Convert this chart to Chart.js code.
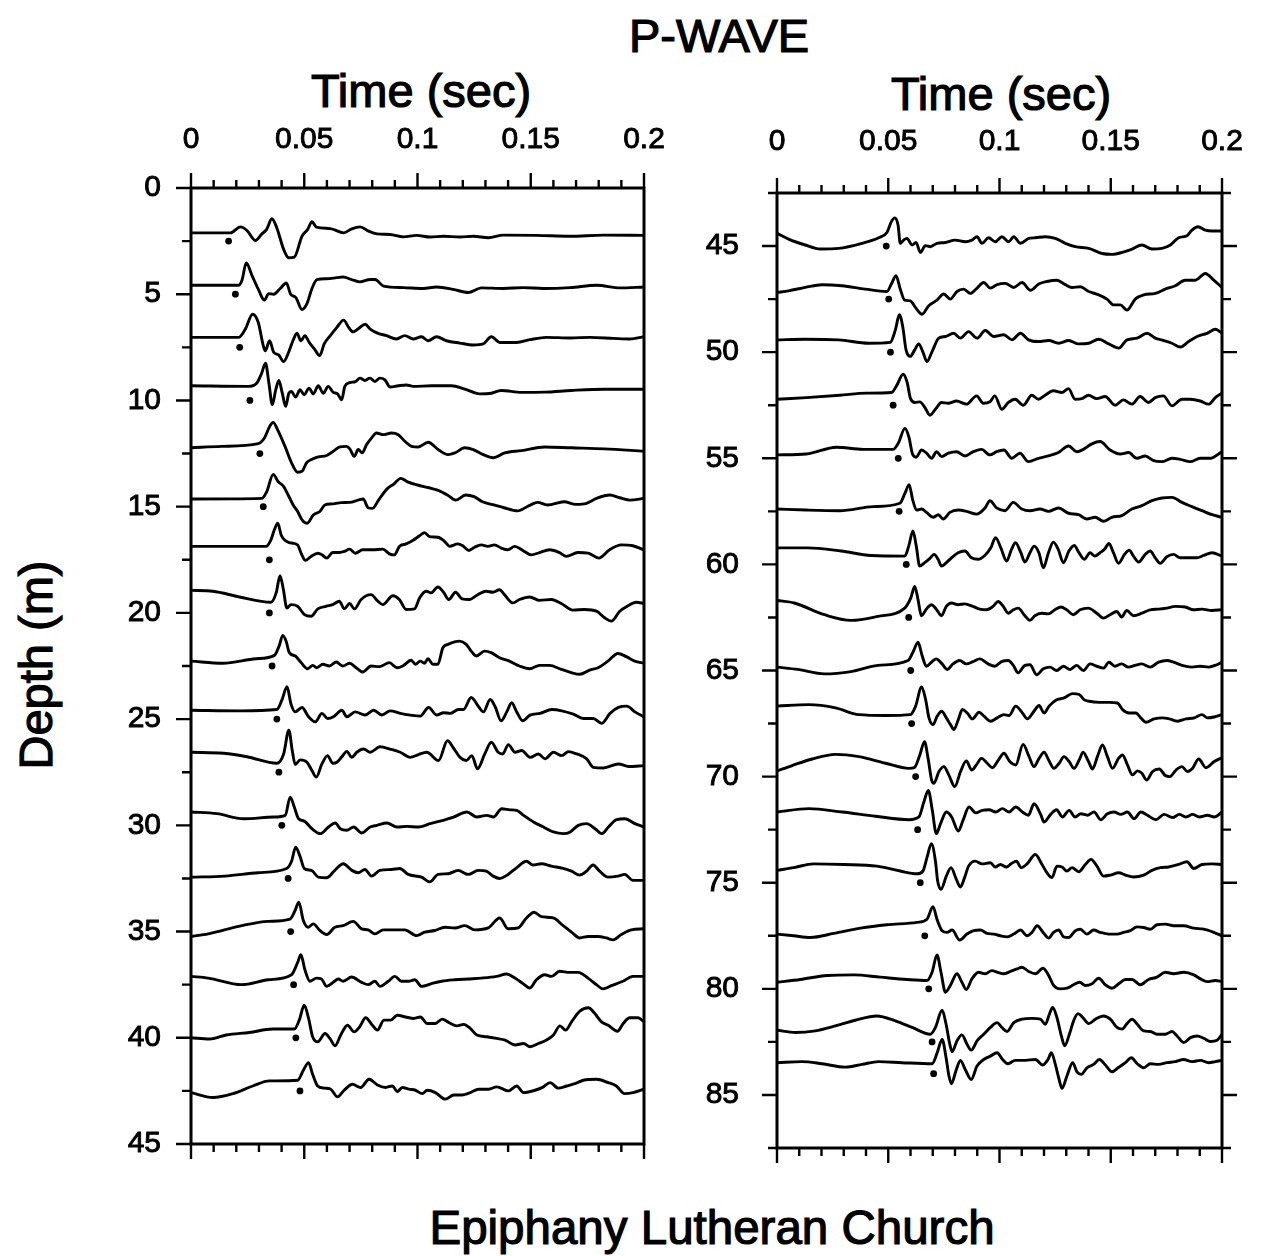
<!DOCTYPE html>
<html>
<head>
<meta charset="utf-8">
<script src="https://cdn.jsdelivr.net/npm/chart.js@4.4.1/dist/chart.umd.min.js"></script>
<style>
  html, body { margin:0; padding:0; background:#fff; }
  body { width:1261px; height:1256px; position:relative; overflow:hidden; font-family:'Liberation Sans', Arial, Helvetica, sans-serif; color:#000; }
  .t { position:absolute; transform:translate(-50%,-50%); white-space:nowrap; line-height:1; -webkit-text-stroke:1.2px #000; }
  canvas { position:absolute; }
</style>
</head>
<body>
<div class="t" style="left:719px; top:35px; font-size:47px;">P-WAVE</div>
<div class="t" style="left:421px; top:90px; font-size:47px;">Time (sec)</div>
<div class="t" style="left:1001px; top:93px; font-size:47px;">Time (sec)</div>
<div class="t" style="left:35px; top:665px; font-size:47px; transform:translate(-50%,-50%) rotate(-90deg);">Depth (m)</div>
<div class="t" style="left:712px; top:1228px; font-size:47.5px;">Epiphany Lutheran Church</div>
<canvas id="cL" width="704" height="1104" style="left:0px; top:100px;"></canvas>
<canvas id="cR" width="582" height="1108" style="left:700px; top:100px;"></canvas>
<script>
// ---- tick values / labels ----
const timeTicks = [0, 0.05, 0.1, 0.15, 0.2];
const timeTickLabels = ['0', '0.05', '0.1', '0.15', '0.2'];
const depthTicksLeft = [0, 5, 10, 15, 20, 25, 30, 35, 40, 45];
const depthTicksRight = [45, 50, 55, 60, 65, 70, 75, 80, 85];

// ---- trace depths (m) and first-arrival picks (ms) ----
const depthsLeft = [2.5, 5, 7.5, 10, 12.5, 15, 17.5, 20, 22.5, 25, 27.5, 30, 32.5, 35, 37.5, 40, 42.5];
const picksLeft = [16.6, 19.6, 21.5, 26.0, 30.4, 31.9, 34.6, 34.6, 35.8, 37.9, 38.8, 40.1, 42.9, 44.0, 45.3, 46.3, 48.1];
const depthsRight = [45, 47.5, 50, 52.5, 55, 57.5, 60, 62.5, 65, 67.5, 70, 72.5, 75, 77.5, 80, 82.5, 84];
const picksRight = [49.1, 50.2, 51.0, 52.2, 54.5, 54.9, 58.1, 59.2, 60.1, 60.5, 62.3, 63.2, 64.4, 66.4, 68.2, 69.7, 70.4];

// ---- traces: pairs of [time ms, amplitude (m, upward positive)] ----
const traceL01 = [0,0.39, 17.4,0.39, 21.8,0.67, 24.7,0.5, 28.4,0.03, 31.3,0.34, 33.4,0.55, 35.7,1.05, 37.9,0.62, 40.9,-0.39, 43.1,-0.78, 45.6,-0.75, 49.0,0.23, 51.5,0.55, 53.4,0.91, 55.4,0.66, 61.5,0.59, 67.4,0.39, 71.0,0.58, 74.7,0.67, 78.4,0.47, 82.1,0.34, 87.9,0.31, 93.8,0.2, 99.6,0.27, 105.6,0.19, 111.5,0.23, 118.7,0.19, 124.7,0.23, 131.3,0.16, 137.9,0.28, 152.6,0.27, 167.4,0.23, 182.1,0.28, 200,0.27];
const traceL02 = [0,0.42, 21.0,0.42, 22.5,0.66, 24.4,1.47, 26.9,0.89, 29.9,0.19, 32.4,-0.28, 34.3,0.03, 36.5,0, 39.4,0.27, 42.1,0.53, 44.0,0, 46.3,-0.16, 49.0,-0.72, 51.2,-0.44, 53.4,0.27, 55.6,0.69, 59.9,0.73, 64.4,0.78, 67.2,0.81, 70.9,0.69, 74.6,0.58, 79.1,0.69, 81.3,0.69, 85.0,0.38, 93.8,0.31, 102.5,0.27, 108.4,0.34, 115.7,0.23, 122.4,0.08, 128.2,0.3, 137.9,0.27, 146.6,0.31, 155.6,0.27, 167.4,0.31, 179.1,0.42, 189.4,0.3, 200,0.34];
const traceL03 = [0,0.47, 21,0.47, 24,0.86, 27.2,1.56, 29.7,1.17, 31.9,0.08, 32.8,-0.16, 34.7,0.31, 36.5,-0.23, 38.7,-0.36, 40.9,-0.67, 43.1,-0.23, 45.0,0.31, 46.8,0.66, 48.5,0.31, 50.3,0.55, 52.2,0.23, 54.3,-0.05, 56.8,-0.39, 58.8,0.16, 61.5,0.55, 64.4,0.94, 67.4,1.28, 69.6,0.94, 71.5,0.73, 74.0,0.89, 76.9,1.09, 79.1,0.86, 82.6,0.66, 86.3,0.55, 90.7,0.39, 94.4,0.55, 98.1,0.39, 101.8,0.5, 104.7,0.31, 108.4,0.5, 112.8,0.31, 118.7,0.2, 124.6,0.11, 129.0,0.16, 132.6,0.5, 136.3,0.23, 143.7,0.23, 149.6,0.36, 156.9,0.47, 167.4,0.44, 176.2,0.47, 186.5,0.42, 193.8,0.39, 200,0.5];
const traceL04 = [0,0.69, 25.3,0.66, 29.0,0.81, 31.2,1.28, 32.9,1.75, 34.4,0.81, 35.9,-0.2, 37.4,0.5, 38.8,0.94, 40.3,0.34, 41.8,-0.28, 43.2,0.34, 44.4,0.42, 46.2,0.16, 48.1,0.5, 50.0,0.27, 52.1,0.58, 54.0,0.31, 56.2,0.69, 58.4,0.34, 60.6,0.66, 62.8,0.38, 64.7,0.31, 66.5,0.03, 67.9,0.66, 70.1,0.84, 72.6,0.89, 74.6,1.05, 76.8,0.94, 79.0,1.05, 81.2,0.89, 83.4,1.05, 85.6,0.97, 87.9,0.63, 91.5,0.69, 95.1,0.73, 98.1,0.66, 106.2,0.69, 115.0,0.69, 120.9,0.53, 127.5,0.31, 132.6,0.34, 136.9,0.47, 145.9,0.38, 156.2,0.39, 167.9,0.47, 182.6,0.53, 200,0.53];
const traceL05 = [0,0.27, 13.5,0.34, 29.7,0.47, 32.4,0.73, 34.9,1.31, 36.3,1.47, 38.2,1.13, 41.5,0.34, 44.4,-0.44, 47.1,-0.88, 49.1,-0.83, 51.0,-0.44, 53.2,-0.28, 56.2,-0.16, 59.9,-0.09, 62.8,0.11, 65.7,0.31, 68.7,0.34, 70.1,0.22, 72.1,-0.13, 73.8,0.19, 75.6,0.03, 77.5,0.42, 79.7,0.73, 81.9,0.97, 84.9,0.89, 88.5,0.97, 91.5,0.89, 94.4,0.58, 97.4,0.34, 100.3,0.31, 104.7,0.53, 109.1,0.19, 113.5,-0.05, 116.5,0.03, 120.9,0.27, 124.6,0.19, 129.0,-0.05, 133.4,-0.2, 138.5,0.03, 145.9,0.14, 156.2,0.31, 167.9,0.27, 182.6,0.22, 200,0.11];
const traceL06 = [0,0.36, 31.2,0.39, 33.4,0.7, 36.3,1.52, 38.5,1.17, 40.7,0.98, 42.9,0.55, 45.1,0.08, 47.1,-0.23, 49.1,-0.63, 51.3,-0.78, 54.0,-0.39, 56.9,-0.23, 59.1,0.08, 62.1,0.13, 66.5,0.19, 70.1,0.2, 73.8,0.31, 76.0,0.36, 78.2,-0.05, 80.1,-0.08, 83.1,0.36, 86.8,0.86, 89.4,1.05, 92.6,1.33, 95.6,1.17, 100.0,1.02, 105.1,0.89, 108.8,0.78, 113.2,0.55, 116.9,0.31, 121.3,0.55, 125.0,0.47, 128.7,0.23, 133.8,0.08, 138.2,-0.05, 144.1,-0.2, 149.3,0.05, 153.0,0.2, 157.4,0.08, 164.7,0.23, 169.9,0.11, 174.6,0.16, 179.0,0.39, 184.9,0.55, 189.3,0.42, 193.8,0.31, 200,0.39];
const traceL07 = [0,0.63, 33.1,0.63, 35.3,0.94, 36.8,1.41, 38.3,1.72, 39.8,1.17, 41.2,0.94, 43.4,0.81, 44.9,0.78, 47.1,0.7, 48.6,0.31, 50.5,-0.03, 53.0,0.16, 56.0,0.31, 57.9,0.23, 59.9,0.08, 62.6,0.34, 65.5,0.34, 67.7,0.39, 70.0,0.5, 72.6,0.31, 75.8,0.47, 80.3,0.47, 84.7,0.5, 87.6,0.28, 89.8,0.23, 92.0,0.63, 95.0,0.75, 97.9,0.91, 100.9,1.13, 103.1,1.28, 105.3,1.09, 109.0,1.06, 112.0,0.86, 114.2,0.63, 117.8,0.75, 120.0,0.66, 122.7,0.44, 125.2,0.59, 128.1,0.7, 131.1,0.63, 134.0,0.7, 137.0,0.55, 139.9,0.47, 142.9,0.63, 146.5,0.44, 150.2,0.23, 153.9,0.34, 158.3,0.47, 162.7,0.34, 165.7,0.16, 170.8,0.34, 175.3,0.31, 180.1,0.08, 184.8,0.47, 190.0,0.7, 195.1,0.66, 200,0.47];
const traceL08 = [0,1.06, 9.6,1.02, 21.4,0.75, 35.3,0.5, 37.6,0.94, 39.3,1.75, 40.8,1.09, 42.3,0.23, 44.2,0.39, 47.1,0.31, 50.1,-0.08, 53.0,-0.16, 56.0,0.19, 59.6,0.31, 62.6,0.39, 65.5,0.55, 67.7,0.19, 70.0,0.44, 72.2,0.19, 75.1,0.63, 79.5,0.86, 82.5,0.55, 84.7,0.39, 89.1,0.81, 92.0,0.63, 95.0,0.16, 98.7,0.19, 100.9,0.7, 103.8,1.02, 106.0,0.94, 109.0,1.22, 111.5,0.97, 113.8,0.63, 116.8,0.97, 119.7,0.66, 123.0,0.63, 125.9,0.81, 130.3,1.02, 133.3,0.97, 136.2,1.09, 138.4,0.86, 142.1,0.47, 145.0,0.63, 149.5,0.75, 153.9,0.59, 159.1,0.63, 163.5,0.44, 168.6,0.13, 173.8,0.16, 179.0,0.08, 182.6,-0.23, 185.6,-0.39, 189.3,0.08, 193.0,0.34, 196.6,0.5, 200,0.44];
const traceL09 = [0,0.23, 14.0,0.13, 28.7,0.34, 36.8,0.5, 39.0,0.97, 40.5,1.44, 42.0,1.17, 43.4,0.63, 46.1,0.47, 48.6,0.16, 51.5,-0.13, 53.8,0.03, 55.5,-0.08, 58.2,0.08, 61.1,0, 64.1,0.19, 67.0,0, 70.0,0.13, 72.9,-0.08, 75.8,-0.28, 79.5,0, 83.2,-0.03, 87.6,0.16, 90.9,-0.08, 93.5,0, 97.2,0.27, 99.1,0.08, 101.2,0.23, 103.1,0.13, 104.6,0.34, 106.8,0.08, 109.0,0.08, 111.2,0.86, 113.5,1.02, 118.6,1.17, 121.5,1.02, 123.7,0.7, 125.9,0.47, 129.6,0.7, 132.5,0.63, 136.2,0.39, 140.6,0.23, 145.0,0, 149.5,-0.13, 153.9,0.03, 158.3,0.03, 163.5,-0.16, 167.9,-0.31, 171.6,-0.39, 176.0,-0.19, 179.7,-0.08, 184.1,0.23, 188.5,0.59, 192.2,0.44, 195.9,0.23, 200,0.13];
const traceL10 = [0,0.42, 21.8,0.39, 37.9,0.45, 40.1,0.89, 42.4,1.52, 44.1,0.73, 46.0,0.34, 49.0,0.55, 51.9,0.11, 54.9,-0.13, 57.8,0.27, 60.3,0.03, 62.9,0.11, 66.6,0.42, 68.8,0.11, 72.5,0.34, 76.9,0.19, 80.6,0.42, 84.3,0.19, 87.9,0.39, 92.4,0.27, 96.8,0.19, 101.2,0.14, 104.9,0.55, 108.5,0.19, 111.5,0.3, 114.4,0.27, 118.1,0.45, 120.3,0.45, 123.7,1.02, 127.0,0.58, 129.1,0.34, 132.1,0.92, 134.3,0.58, 136.9,-0.08, 139.4,0.34, 141.6,0.77, 143.8,0.34, 146.5,-0.08, 149.7,0.19, 154.1,0.27, 159.3,0.45, 163.7,0.39, 168.8,0.23, 173.2,0.03, 177.6,0.03, 181.3,-0.2, 185.0,0.27, 188.7,0.55, 192.4,0.61, 196.0,0.34, 200,0.11];
const traceL11 = [0,0.94, 14.4,0.89, 24.7,0.73, 37.9,0.42, 40.9,0.86, 43.2,1.98, 44.7,1.02, 46.0,0.36, 48.2,0.58, 51.2,0.47, 53.4,0.08, 55.3,-0.23, 57.8,0.39, 60.3,0.78, 62.6,0.42, 64.4,0.47, 66.6,0.73, 68.8,0.98, 71.0,0.7, 73.2,0.94, 76.2,1.09, 79.1,0.94, 83.5,1.2, 87.9,1.09, 92.4,0.94, 96.8,0.7, 100.4,0.83, 104.1,0.94, 109.3,0.55, 113.2,1.48, 116.2,1.09, 118.8,0.7, 121.5,0.55, 124.0,0.78, 126.5,0.16, 129.7,0.86, 132.6,1.41, 135.6,0.94, 137.6,0.86, 140.1,1.3, 143.1,0.94, 146.0,1.02, 149.7,0.7, 153.4,0.86, 156.3,0.63, 160.0,0.94, 163.7,0.78, 166.6,0.97, 170.3,0.86, 174.7,0.63, 177.6,0.23, 182.1,0.2, 188.7,0.39, 193.2,0.27, 200,0.31];
const traceL12 = [0,0.63, 11.5,0.55, 23.2,0.31, 36.5,0.39, 41.6,0.47, 43.8,1.33, 45.6,0.86, 47.5,0.31, 50.0,0.2, 53.4,-0.16, 57.1,-0.39, 60.7,-0.08, 63.7,0.11, 65.9,-0.16, 68.8,-0.23, 71.8,-0.08, 75.4,-0.36, 79.1,-0.08, 82.1,0, 86.5,0.11, 90.9,-0.08, 95.3,-0.05, 100.4,-0.08, 105.6,0.08, 110.0,0.2, 115.9,0.39, 121.8,0.63, 126.2,0.39, 130.6,0.47, 133.5,0.39, 137.2,0.78, 140.9,0.73, 143.8,0.7, 146.8,0.47, 151.2,0.16, 155.6,-0.08, 160.0,-0.31, 164.4,-0.39, 167.4,-0.31, 171.0,0, 174.7,0.08, 178.4,-0.16, 181.3,-0.39, 184.3,-0.08, 187.9,0.27, 191.6,0.31, 196.0,0.08, 200,-0.08];
const traceL13 = [0,0.06, 15.0,0.11, 29.7,0.27, 42.2,0.47, 44.4,0.81, 46.2,1.47, 48.1,1.05, 50.0,0.47, 53.2,0.38, 56.2,0.06, 59.9,0.03, 63.5,0.38, 67.2,0.69, 71.0,0.38, 73.8,0.27, 76.8,0.42, 79.7,0.11, 83.4,0.38, 88.5,0.42, 92.2,0.47, 95.9,0.19, 101.8,0.06, 105.4,-0.16, 109.1,0.19, 113.5,0.22, 117.9,0.38, 122.4,0.19, 126.8,0.38, 130.4,0.34, 133.4,0.11, 136.3,0, 140.0,0.19, 143.7,0.5, 148.1,0.81, 151.0,0.63, 154.7,0.69, 159.1,0.58, 164.3,0.47, 168.0,0.34, 171.6,0.16, 174.6,0.34, 177.5,0.63, 180.4,0.34, 184.1,0.06, 188.5,0.11, 191.5,0.19, 195.1,-0.09, 200,-0.09];
const traceL14 = [0,-0.23, 7.6,-0.11, 22.4,0.28, 34.1,0.48, 43.7,0.59, 45.9,0.98, 47.6,1.38, 49.6,0.52, 51.8,0.2, 54.0,0.36, 56.9,0.05, 59.9,-0.14, 63.5,0.2, 67.2,0.28, 71.6,0.48, 75.3,0.13, 78.2,0.08, 81.2,-0.11, 84.9,0.08, 88.5,0.08, 94.4,0.08, 99.6,-0.19, 103.2,-0.03, 107.6,0.05, 112.1,0.2, 116.5,0.17, 120.9,0.28, 125.3,0.08, 131.2,0.17, 136.3,0.64, 140.0,0.13, 144.4,0.17, 148.1,0.64, 151.5,0.91, 154.7,0.7, 159.9,0.64, 164.3,0.28, 168.0,-0.03, 171.6,-0.3, 175.3,-0.23, 179.7,-0.23, 183.4,-0.3, 186.3,-0.39, 190.0,-0.14, 194.4,0.08, 200,0.13];
const traceL15 = [0,0.39, 7.6,0.31, 22.4,0, 34.1,0.23, 44.4,0.47, 47.1,1.05, 48.5,1.41, 50.3,0.7, 52.5,0.16, 55.4,0.31, 57.6,0.27, 59.9,-0.08, 62.8,0.11, 65.0,0.27, 67.2,0.16, 70.9,0.36, 75.3,0.11, 78.2,0, 81.2,0.16, 83.4,-0.08, 87.1,0.16, 90.0,0.39, 92.9,0.16, 95.9,0.16, 98.8,0.23, 101.8,-0.08, 106.2,0.05, 110.6,0.16, 116.5,0.23, 122.4,0.27, 128.2,0.31, 134.9,0.39, 139.3,0.5, 143.0,0.31, 146.6,0.05, 149.6,-0.16, 152.5,0.23, 156.2,0.47, 159.1,0.39, 162.8,0.63, 167.2,0.58, 170.9,0.58, 175.3,0.31, 179.0,0, 181.9,-0.2, 185.6,-0.05, 190.7,0.16, 195.1,0.39, 200,0.39];
const traceL16 = [0,0, 8.2,-0.06, 15.5,0.13, 25.8,0.25, 36.1,0.41, 45.6,0.41, 47.8,0.83, 50.0,1.53, 51.9,0.91, 53.7,0.05, 55.9,-0.19, 59.2,0.2, 61.3,-0.03, 63.6,-0.38, 66.1,0.13, 69.1,0.59, 72.0,0.28, 74.5,0.52, 77.1,0.94, 79.8,0.63, 82.3,0.36, 85.2,0.83, 88.1,0.83, 91.1,1.06, 94.7,0.98, 98.4,0.91, 101.3,0.98, 104.3,0.67, 107.9,0.67, 110.9,0.88, 113.8,0.72, 117.4,0.56, 120.4,0.63, 123.3,0.44, 126.2,0.13, 130.6,0.05, 135.0,-0.03, 138.7,-0.11, 143.1,-0.34, 146.8,-0.27, 149.7,-0.42, 153.4,-0.27, 157.0,-0.11, 160.0,0.13, 162.9,0.56, 165.4,0.36, 168.0,0.75, 171.7,1.25, 175.4,1.41, 178.3,1.14, 181.2,0.75, 184.2,0.59, 188.3,0.31, 190.8,0.67, 193.7,0.94, 197.4,0.94, 200,0.75];
const traceL17 = [0,-0.08, 9.7,-0.31, 18.5,-0.13, 27.3,0.23, 34.6,0.47, 47.1,0.5, 49.6,0.97, 51.9,1.33, 53.7,0.78, 55.9,0.23, 58.8,0.13, 61.7,0.08, 64.7,-0.28, 67.6,0.03, 71.3,0.31, 74.9,0.16, 78.6,0.55, 82.3,0.28, 85.9,0.16, 88.9,0.23, 91.1,-0.03, 93.3,0.16, 96.2,0.08, 99.1,0.03, 102.1,-0.13, 104.3,0.03, 107.9,-0.08, 112.3,-0.39, 116.0,-0.19, 119.6,-0.19, 123.3,-0.08, 127.0,0.08, 131.4,0.08, 135.0,0.19, 140.2,0, 143.8,0.23, 146.8,-0.08, 151.9,0.03, 155.6,0.19, 158.5,0.39, 162.2,0.13, 165.9,0.23, 169.5,0.34, 173.2,0.5, 179.0,0.55, 184.2,0.39, 187.8,0.23, 191.5,-0.13, 195.2,-0.08, 200,0.08];

const traceR01 = [0,0.6, 5.2,0.33, 12.7,0.05, 19.5,-0.14, 27.7,-0.11, 38.2,0.13, 45.7,0.39, 49.4,0.64, 51.4,1.15, 52.9,1.33, 54.4,0.99, 55.4,0.13, 56.9,0.28, 58.4,0.36, 60.7,0.05, 62.5,0.17, 64.4,-0.3, 66.7,0.02, 68.9,-0.03, 71.9,0.13, 75.6,0.17, 80.1,0.28, 84.6,0.2, 87.6,0.28, 89.9,0.44, 92.1,0.13, 95.1,0.39, 98.1,0.2, 101.1,0.44, 104.1,0.2, 106.4,0.44, 109.4,0.13, 113.1,0.36, 116.1,0.39, 120.6,0.44, 125.1,0.36, 129.6,0.13, 134.1,-0.03, 140.1,-0.11, 146.1,-0.35, 150.6,-0.39, 155.1,-0.3, 159.6,-0.14, 164.0,0.05, 168.5,-0.14, 173.0,-0.11, 176.8,0.05, 180.5,0.39, 184.3,0.49, 186.5,0.75, 189.2,0.91, 192.5,0.75, 195.5,0.71, 200,0.71];
const traceR02 = [0,0.31, 5.2,0.39, 12.7,0.55, 20.2,0.68, 29.2,0.63, 39.7,0.47, 49.4,0.36, 51.4,0.71, 53.5,1.1, 55.4,0.47, 57.4,-0.05, 59.9,-0.08, 62.2,-0.39, 65.2,-0.71, 68.2,-0.31, 71.9,-0.05, 74.9,0.24, 77.9,0, 80.9,0.36, 83.9,0.47, 86.9,0.27, 89.9,0.52, 92.9,0.78, 95.9,0.52, 98.9,0.68, 102.6,0.74, 106.4,0.55, 110.1,0.78, 113.9,0.42, 117.6,0.71, 121.3,0.83, 125.8,0.89, 129.6,0.68, 132.6,0.55, 136.3,0.58, 140.1,0.36, 144.6,0.2, 148.3,0, 151.3,-0.27, 154.3,-0.27, 157.3,-0.52, 161.0,0, 164.8,0.2, 170.0,0.27, 174.5,0.47, 179.0,0.63, 183.5,0.89, 188.0,0.89, 192.5,1.21, 196.3,0.89, 200,0.55];
const traceR03 = [0,0.58, 12.7,0.61, 27.7,0.58, 41.2,0.42, 50.9,0.46, 53.2,1.05, 55.0,1.76, 56.5,1.21, 58.0,0.11, 59.9,-0.2, 61.9,0.11, 63.7,0.39, 65.5,0.03, 67.4,-0.44, 69.7,0.03, 72.7,0.66, 75.7,0.74, 79.4,0.89, 82.4,0.66, 86.1,0.97, 89.9,0.66, 93.6,1.02, 97.4,0.74, 101.9,0.82, 105.6,0.58, 109.4,0.89, 113.1,0.58, 117.6,0.5, 122.1,0.55, 126.6,0.42, 131.1,0.55, 135.6,0.39, 140.1,0.42, 144.6,0.61, 149.1,0.39, 153.6,0.19, 157.3,0.58, 161.8,0.66, 166.3,0.89, 170.0,0.66, 173.7,0.55, 177.5,0.42, 181.3,0.24, 185.0,0.5, 188.8,0.74, 193.3,0.89, 197.1,1.08, 200,0.89];
const traceR04 = [0,0.28, 13.2,0.36, 28.2,0.47, 40.2,0.57, 51.5,0.6, 53.7,0.91, 56.7,1.46, 58.5,1.07, 60.0,0.31, 62.0,0.13, 64.2,0.16, 66.5,-0.11, 68.7,-0.47, 71.4,-0.16, 73.9,0.13, 77.0,0.09, 80.7,0.2, 85.2,0.05, 89.7,0.44, 92.7,0.09, 95.7,0.16, 97.9,0.44, 101.0,-0.19, 104.0,0.13, 107.0,0.28, 110.7,0, 114.5,0.47, 117.5,0.28, 120.5,0.47, 124.2,0.68, 128.0,0.6, 131.0,0.78, 134.0,0.28, 137.0,0.31, 140.0,0.47, 143.7,0.31, 147.5,0.41, 152.0,0, 155.7,0.25, 159.5,0.05, 163.2,0.41, 167.0,0.13, 170.0,0.36, 173.7,0.44, 177.5,-0.03, 182.0,0.28, 185.7,0.28, 190.2,0.2, 194.0,0.05, 197.0,0.36, 200,0.57];
const traceR05 = [0,0.16, 13.2,0.2, 26.7,0.52, 38.7,0.42, 52.2,0.42, 54.5,0.71, 57.5,1.41, 59.3,0.99, 60.9,0.2, 62.5,0.05, 65.0,0.39, 67.2,0.24, 69.5,0, 71.7,0.31, 74.0,0.08, 77.0,0.24, 80.7,0.31, 84.5,0.11, 88.2,0.31, 91.9,0.42, 95.7,0.16, 98.7,0.31, 102.0,0.39, 105.5,0, 109.2,0.24, 113.0,-0.16, 117.5,0, 122.0,0.11, 126.5,0.27, 131.0,0.58, 134.7,0.31, 137.7,0.42, 141.5,0.68, 145.2,0.79, 149.7,0.39, 154.2,0.2, 158.0,0.27, 161.7,0, 165.5,0.11, 169.2,-0.11, 173.0,-0.16, 177.5,0, 181.2,-0.05, 185.7,-0.16, 190.2,0, 194.7,0, 200,0.31];
const traceR06 = [0,0.11, 13.2,0.06, 28.2,0.03, 43.2,0.22, 55.2,0.38, 57.5,0.85, 59.4,1.26, 60.9,0.58, 62.7,0.06, 65.0,0.11, 67.2,-0.05, 70.2,-0.28, 72.5,-0.16, 74.7,-0.36, 77.7,-0.05, 81.5,0.06, 85.2,0, 89.7,-0.13, 93.5,0.16, 95.7,0.5, 98.7,0.16, 102.5,0.03, 106.2,0.42, 110.0,0.11, 113.7,0.03, 118.2,0.11, 122.0,0, 126.5,0.16, 131.0,-0.09, 135.5,-0.16, 139.2,-0.36, 143.0,-0.28, 146.7,-0.47, 150.5,-0.28, 155.0,-0.2, 159.5,0.11, 164.0,0.27, 168.5,0.5, 173.0,0.63, 177.5,0.66, 182.0,0.42, 186.5,0.22, 191.0,0.03, 195.5,-0.16, 200,-0.28];
const traceR07 = [0,0.78, 13.8,0.78, 28.8,0.63, 42.3,0.42, 57.4,0.39, 59.2,0.86, 61.1,1.57, 62.6,0.86, 64.1,-0.08, 66.4,0.08, 68.6,0.27, 70.6,0.47, 72.4,0.24, 73.9,-0.08, 76.1,0.08, 78.4,0.31, 81.4,0.55, 84.4,0.63, 87.4,0.31, 90.4,0.24, 93.4,0.42, 96.1,0.78, 98.2,1.26, 100.6,0.78, 103.2,0.16, 105.4,0.71, 107.2,1.02, 109.6,0.55, 111.4,0.11, 113.7,0.55, 115.6,0.86, 117.7,0.55, 119.7,-0.16, 122.0,0.55, 124.2,1.05, 126.4,0.71, 128.7,0.08, 131.2,0.63, 133.6,0.89, 135.7,0.55, 138.1,0.24, 140.7,0.55, 142.9,0.39, 145.2,0.55, 147.4,0.74, 149.2,0.99, 151.2,0.55, 153.5,0.05, 156.2,0.47, 158.3,0.67, 160.2,0.39, 162.5,0.11, 165.5,0.47, 167.7,0.63, 170.0,0.31, 172.2,0.05, 175.2,0.36, 178.2,0.47, 181.2,0.31, 185.0,0.31, 188.7,0.31, 191.7,0.42, 195.5,0.55, 200,0.39];
const traceR08 = [0,0.8, 7.8,0.68, 21.3,0.13, 33.3,-0.14, 45.3,0.05, 57.4,0.44, 60.1,0.91, 61.9,1.46, 63.4,0.83, 64.9,0.08, 67.1,0.39, 69.4,0.6, 71.6,0.39, 73.9,0.08, 76.1,0.52, 78.4,0.68, 81.4,0.6, 84.4,0.64, 88.1,0.52, 91.1,0.39, 94.1,0.36, 97.1,0.52, 99.4,0.75, 101.7,0.52, 103.9,0.2, 106.2,0.36, 108.4,0.44, 111.4,0.08, 113.7,-0.14, 115.9,0.08, 118.9,0.2, 121.9,0.17, 124.9,0.36, 127.6,0.49, 130.2,0.36, 133.2,0.13, 136.2,0.36, 139.9,0.44, 143.7,0.2, 146.7,-0.03, 149.7,0.13, 152.7,0.28, 154.9,0.02, 157.2,0.33, 160.2,0.08, 164.0,0.2, 167.7,0.36, 171.5,0.39, 175.2,0.44, 179.0,0.52, 183.5,0.49, 187.2,0.36, 191.0,0.39, 195.5,0.33, 200,0.36];
const traceR09 = [0,0.16, 9.3,0.05, 21.3,-0.16, 33.3,-0.05, 45.3,0.24, 58.9,0.47, 61.1,0.86, 63.4,1.33, 65.2,0.71, 67.1,0.2, 69.4,0.39, 71.6,0.55, 74.2,0.31, 76.6,0.05, 79.1,0.31, 82.1,0.47, 85.1,0.31, 88.1,0.42, 91.1,0.55, 94.9,0.31, 97.9,0.2, 100.9,0.42, 103.9,0.47, 106.2,0.24, 108.4,-0.11, 111.4,0.24, 113.7,0.27, 116.7,-0.2, 119.7,0.08, 122.7,0.16, 125.7,0, 128.7,0.2, 131.7,0.05, 134.7,0.24, 137.7,0, 140.7,0.31, 143.7,0.2, 146.7,0.11, 149.2,0.39, 151.9,0.2, 154.9,0.31, 157.9,0.16, 160.9,0.24, 163.9,0.31, 167.7,0.16, 171.5,0.39, 175.2,0.47, 178.2,0.39, 182.0,0.24, 186.5,0.16, 190.2,0.2, 194.0,0.16, 197.7,0.27, 200,0.39];
const traceR10 = [0,0.82, 14.3,0.89, 26.3,0.74, 36.8,0.42, 48.8,0.38, 60.0,0.42, 62.3,0.82, 65.0,1.73, 66.8,1.13, 68.3,0.27, 70.1,-0.05, 72.0,0.35, 74.0,0.58, 76.1,0.27, 78.0,-0.05, 79.5,-0.28, 81.5,0.19, 83.3,0.66, 85.5,0.5, 87.8,0.22, 90.8,0.53, 93.0,0.35, 96.0,0.11, 99.0,0.27, 102.0,0.42, 104.3,0.38, 107.3,0.82, 110.3,0.5, 112.5,0.22, 115.5,0.58, 117.8,0.85, 120.0,0.5, 122.3,0.82, 125.3,1.1, 129.0,1.21, 132.8,1.41, 135.8,1.37, 138.0,1.13, 140.3,1.05, 144.8,1.0, 149.3,1.0, 153.0,0.97, 155.3,0.66, 158.3,0.5, 161.3,0.5, 163.5,0.27, 165.8,0.06, 169.5,0.22, 173.3,0.27, 176.3,0.22, 180.0,0.11, 183.8,0.22, 187.6,0.27, 191.0,0.42, 193.5,0.27, 196.5,0.31, 200,0.42];
const traceR11 = [0,0.27, 6.8,0.52, 15.8,0.83, 26.3,1.05, 36.8,0.94, 48.8,0.63, 59.3,0.39, 61.7,0.42, 64.2,1.02, 66.3,1.65, 67.9,0.86, 69.5,-0.16, 70.5,-0.31, 72.8,0.24, 75.0,0.47, 77.2,0.08, 79.9,-0.47, 82.5,0.24, 85.1,0.74, 87.5,0.31, 89.6,0.55, 91.9,0.86, 94.5,0.63, 96.8,0.42, 99.5,0.78, 102.0,1.1, 104.6,0.71, 107.3,0.55, 110.6,1.52, 113.3,0.94, 115.5,0.47, 117.8,0.86, 120.0,1.15, 122.3,0.74, 124.5,0.39, 126.8,0.63, 129.0,0.94, 131.3,0.71, 133.5,0.39, 135.8,0.78, 137.6,1.15, 140.0,0.71, 141.8,0.36, 144.0,0.94, 146.3,1.49, 148.5,0.94, 150.8,0.39, 153.5,0.86, 155.3,1.02, 157.5,0.55, 159.8,0.08, 162.0,0.27, 164.0,0.16, 166.1,-0.16, 168.8,0.24, 171.8,0.36, 174.5,0.05, 176.6,0, 179.3,0.31, 182.0,0.47, 184.5,0.24, 186.8,0.39, 189.5,0.83, 192.8,0.42, 196.5,0.71, 200,0.89];
const traceR12 = [0,0.83, 14.3,0.99, 29.3,0.83, 44.3,0.63, 59.3,0.47, 63.8,0.6, 66.0,1.3, 68.0,1.85, 69.8,0.91, 71.6,-0.19, 73.5,0.28, 76.1,0.83, 78.5,0.6, 81.5,-0.06, 83.6,0.44, 86.3,1.07, 89.3,0.79, 92.3,0.91, 95.3,0.94, 98.3,0.83, 101.3,0.99, 104.3,0.83, 107.3,1.07, 110.3,0.83, 113.0,0.68, 115.5,1.22, 118.5,0.72, 120.0,0.36, 123.0,0.72, 125.6,0.94, 128.3,0.6, 131.3,0.91, 134.0,0.6, 136.5,0.75, 139.5,0.68, 142.5,0.83, 145.5,0.47, 148.5,0.75, 151.5,0.83, 154.5,0.72, 157.5,0.83, 160.5,0.52, 163.5,0.83, 166.5,0.68, 170.3,0.47, 174.0,0.72, 177.8,0.57, 180.8,0.72, 183.8,0.6, 186.8,0.72, 189.8,0.6, 193.5,0.68, 196.5,0.6, 200,0.83];
const traceR13 = [0,0.58, 7.5,0.71, 16.5,0.89, 30.0,0.86, 44.9,0.78, 55.4,0.55, 62.9,0.42, 65.6,0.55, 67.4,1.18, 69.4,1.84, 71.2,1.02, 72.2,0.08, 73.7,-0.31, 76.1,0.31, 78.2,0.71, 80.6,0.16, 82.4,-0.2, 84.3,0.24, 86.1,0.78, 89.1,1.02, 92.1,0.89, 95.9,0.94, 98.1,0.74, 100.4,0.86, 103.1,0.74, 105.2,0.89, 107.6,1.02, 109.7,0.71, 112.4,0.89, 116.1,1.33, 119.1,0.86, 121.3,0.47, 123.6,0.24, 125.8,0.78, 128.1,0.74, 130.3,0.55, 132.6,0.71, 135.6,0.52, 138.6,0.86, 141.1,1.1, 143.8,0.78, 146.8,0.31, 149.8,0.36, 153.6,0.47, 156.6,0.36, 160.3,0.27, 164.8,0.36, 168.5,0.58, 172.3,0.71, 176.0,0.74, 180.5,0.86, 184.3,0.99, 187.3,0.67, 191.0,0.86, 195.5,0.89, 200,0.86];
const traceR14 = [0,0.08, 7.5,0, 15.0,-0.08, 25.5,0.11, 37.5,0.36, 49.4,0.52, 62.9,0.63, 67.4,0.78, 70.1,1.37, 71.9,0.78, 74.2,0.24, 76.4,0.16, 78.7,0.27, 82.1,-0.2, 85.4,0.08, 88.4,0.24, 91.4,0.27, 94.4,0.11, 97.4,0.08, 100.4,0, 103.4,-0.05, 106.4,0.08, 109.4,0.27, 112.4,0, 114.6,0.16, 116.9,0.47, 119.6,0.16, 122.1,-0.11, 124.3,0.16, 126.6,0.27, 128.8,-0.05, 131.1,-0.08, 134.1,0.24, 136.3,0.31, 139.3,0.08, 142.3,0.27, 145.3,0.16, 149.1,0.08, 152.8,0.08, 155.8,0.16, 158.8,0.24, 161.8,0.42, 164.8,0.39, 167.8,0.31, 170.8,0.52, 174.5,0.55, 178.3,0.47, 182.8,0.47, 187.3,0.36, 191.8,0.31, 196.3,0.16, 200,0];
const traceR15 = [0,0.31, 10.5,0.44, 22.5,0.63, 34.5,0.66, 46.4,0.55, 58.4,0.44, 67.4,0.39, 69.7,0.78, 71.9,1.6, 73.7,0.78, 75.7,-0.16, 77.9,0.16, 80.9,0.71, 83.1,0.31, 85.1,-0.03, 87.6,0.47, 90.6,0.78, 93.6,0.71, 96.6,0.86, 99.2,0.78, 101.9,0.71, 104.9,0.82, 107.9,0.94, 110.1,1.02, 113.1,0.82, 116.1,0.71, 119.6,0.97, 122.1,0.63, 124.3,0.16, 127.3,0, 130.3,0.03, 133.3,0.19, 136.0,0.31, 138.6,0.16, 141.6,0.24, 144.6,0.5, 147.6,0.19, 150.6,0.03, 153.6,0.24, 156.6,0.44, 159.6,0.44, 163.3,0.19, 167.0,0.44, 170.8,0.55, 174.5,0.78, 178.3,0.71, 182.8,0.78, 187.3,0.66, 190.3,0.47, 193.3,0.34, 197.0,0.39, 200,0.34];
const traceR16 = [0,0.55, 8.2,0.44, 17.2,0.52, 26.2,0.75, 35.2,1.02, 44.9,1.22, 53.2,0.99, 60.7,0.68, 68.9,0.36, 71.2,0.68, 74.2,1.49, 76.0,0.83, 77.5,-0.03, 78.7,-0.46, 80.9,0.05, 83.1,0.33, 85.4,-0.11, 87.3,-0.39, 89.9,0.05, 92.9,0.36, 95.9,0.68, 98.9,0.91, 101.1,0.68, 103.4,0.49, 106.4,0.91, 110.1,1.07, 114.6,1.11, 118.4,1.07, 120.6,0.83, 122.4,1.3, 123.9,1.62, 125.8,1.15, 127.8,0.28, 129.3,-0.19, 131.4,0.36, 133.3,0.99, 135.3,1.33, 137.4,1.15, 140.1,0.86, 143.1,1.07, 146.8,1.22, 149.8,1.07, 152.8,0.68, 155.1,0.6, 157.3,0.86, 159.6,1.07, 161.9,0.83, 164.8,0.52, 167.8,0.49, 170.8,0.36, 174.5,0.36, 177.5,0.49, 179.8,0.28, 182.8,-0.03, 185.8,0.2, 188.8,0.28, 191.8,0.17, 194.8,0.02, 197.8,0.08, 200,0.36];
const traceR17 = [0,0.52, 11.2,0.57, 20.2,0.47, 30.7,0.31, 38.2,0.44, 45.7,0.57, 56.2,0.52, 69.7,0.47, 72.0,0.99, 74.2,1.62, 76.0,0.75, 77.2,-0.06, 78.4,-0.47, 80.4,0.13, 82.4,0.63, 84.6,0.2, 87.3,-0.27, 89.9,0.36, 92.9,0.67, 95.9,0.83, 98.9,0.99, 101.4,0.67, 103.8,0.47, 107.1,0.63, 111.6,0.63, 116.1,0.67, 119.4,0.41, 121.8,0.67, 123.3,0.99, 125.1,0.44, 126.6,-0.19, 128.1,-0.69, 130.3,-0.11, 132.9,0.52, 134.8,0.09, 136.8,-0.03, 139.3,0.28, 142.3,0.44, 144.9,0.67, 147.6,0.41, 150.6,0.09, 153.3,0.28, 156.6,0.52, 159.3,0.75, 161.9,0.47, 164.8,0.28, 167.8,0.47, 171.5,0.44, 175.3,0.52, 179.0,0.57, 182.8,0.67, 186.5,0.57, 190.3,0.63, 194.0,0.52, 197.0,0.57, 200,0.63];

const tracesLeft = [traceL01, traceL02, traceL03, traceL04, traceL05, traceL06, traceL07, traceL08, traceL09, traceL10, traceL11, traceL12, traceL13, traceL14, traceL15, traceL16, traceL17];
const tracesRight = [traceR01, traceR02, traceR03, traceR04, traceR05, traceR06, traceR07, traceR08, traceR09, traceR10, traceR11, traceR12, traceR13, traceR14, traceR15, traceR16, traceR17];

const FF = "'Liberation Sans', Arial, Helvetica, sans-serif";

const framePlugin = {
  id: 'frame',
  afterDraw(chart, args, opts) {
    const ctx = chart.ctx, a = chart.chartArea;
    const xs = chart.scales.x, ys = chart.scales.y;
    ctx.save();
    ctx.strokeStyle = '#000';
    ctx.lineCap = 'butt';
    ctx.lineWidth = 2.4;
    ctx.beginPath();
    for (let i = 0; i <= 20; i++) {
      const px = xs.getPixelForValue(xs.min + i * (xs.max - xs.min) / 20);
      const len = (i % 5 === 0) ? 15 : 8;
      ctx.moveTo(px, a.top); ctx.lineTo(px, a.top - len);
      ctx.moveTo(px, a.bottom); ctx.lineTo(px, a.bottom + len);
    }
    const n = Math.round((ys.max - ys.min) / 2.5);
    for (let k = 0; k <= n; k++) {
      const d = ys.min + k * 2.5;
      const py = ys.getPixelForValue(d);
      const major = Math.abs(d / 5 - Math.round(d / 5)) < 1e-6;
      const len = major ? 15 : 9;
      ctx.moveTo(a.left, py); ctx.lineTo(a.left - len, py);
      if (opts.rightTicks) { ctx.moveTo(a.right, py); ctx.lineTo(a.right + len, py); }
    }
    ctx.stroke();
    ctx.lineWidth = 3;
    ctx.strokeRect(a.left, a.top, a.right - a.left, a.bottom - a.top);
    ctx.restore();
  }
};

function makeChart(id, cfg) {
  const datasets = [];
  cfg.traces.forEach((tr, i) => {
    const d = cfg.depths[i];
    const pts = [];
    for (let k = 0; k < tr.length; k += 2) pts.push({ x: tr[k] / 1000, y: d - tr[k + 1] });
    datasets.push({ data: pts, showLine: true, borderColor: '#000', borderWidth: 2.9,
      pointRadius: 0, pointHoverRadius: 0, cubicInterpolationMode: 'monotone', fill: false });
  });
  datasets.push({ data: cfg.picks.map((p, i) => ({ x: p / 1000, y: cfg.depths[i] })), showLine: false,
    pointRadius: 3.4, backgroundColor: '#000', borderColor: '#000', borderWidth: 0 });

  return new Chart(document.getElementById(id), {
    type: 'scatter',
    data: { datasets },
    plugins: [framePlugin],
    options: {
      responsive: false, animation: false, devicePixelRatio: 1,
      layout: { padding: { left: 0, top: 0, right: 60, bottom: 60 } },
      plugins: { legend: { display: false }, tooltip: { enabled: false }, frame: { rightTicks: cfg.rightTicks } },
      scales: {
        x: {
          type: 'linear', position: 'top', min: 0, max: 0.2,
          afterBuildTicks: s => { s.ticks = timeTicks.map(v => ({ value: v })); },
          ticks: { callback: (v, i) => timeTickLabels[i], font: { size: 30, family: FF }, color: '#000',
            textStrokeColor: '#000', textStrokeWidth: 0.9,
            padding: cfg.xPad, maxRotation: 0, minRotation: 0, autoSkip: false },
          grid: { display: false, drawTicks: false }, border: { display: false },
          afterFit: s => { s.height = cfg.topH; }
        },
        y: {
          type: 'linear', position: 'left', reverse: true, min: cfg.yMin, max: cfg.yMax,
          afterBuildTicks: s => { s.ticks = cfg.yTicks.map(v => ({ value: v })); },
          ticks: { callback: v => String(v), font: { size: 30, family: FF }, color: '#000',
            textStrokeColor: '#000', textStrokeWidth: 0.9, padding: cfg.yPad, autoSkip: false },
          grid: { display: false, drawTicks: false }, border: { display: false },
          afterFit: s => { s.width = cfg.leftW; }
        }
      }
    }
  });
}

makeChart('cL', { traces: tracesLeft, depths: depthsLeft, picks: picksLeft, yMin: 0, yMax: 45,
  yTicks: depthTicksLeft, leftW: 191, topH: 88, xPad: 30, yPad: 30, rightTicks: false });
makeChart('cR', { traces: tracesRight, depths: depthsRight, picks: picksRight, yMin: 42.5, yMax: 87.5,
  yTicks: depthTicksRight, leftW: 77, topH: 93, xPad: 33, yPad: 38, rightTicks: true });
</script>
</body>
</html>
